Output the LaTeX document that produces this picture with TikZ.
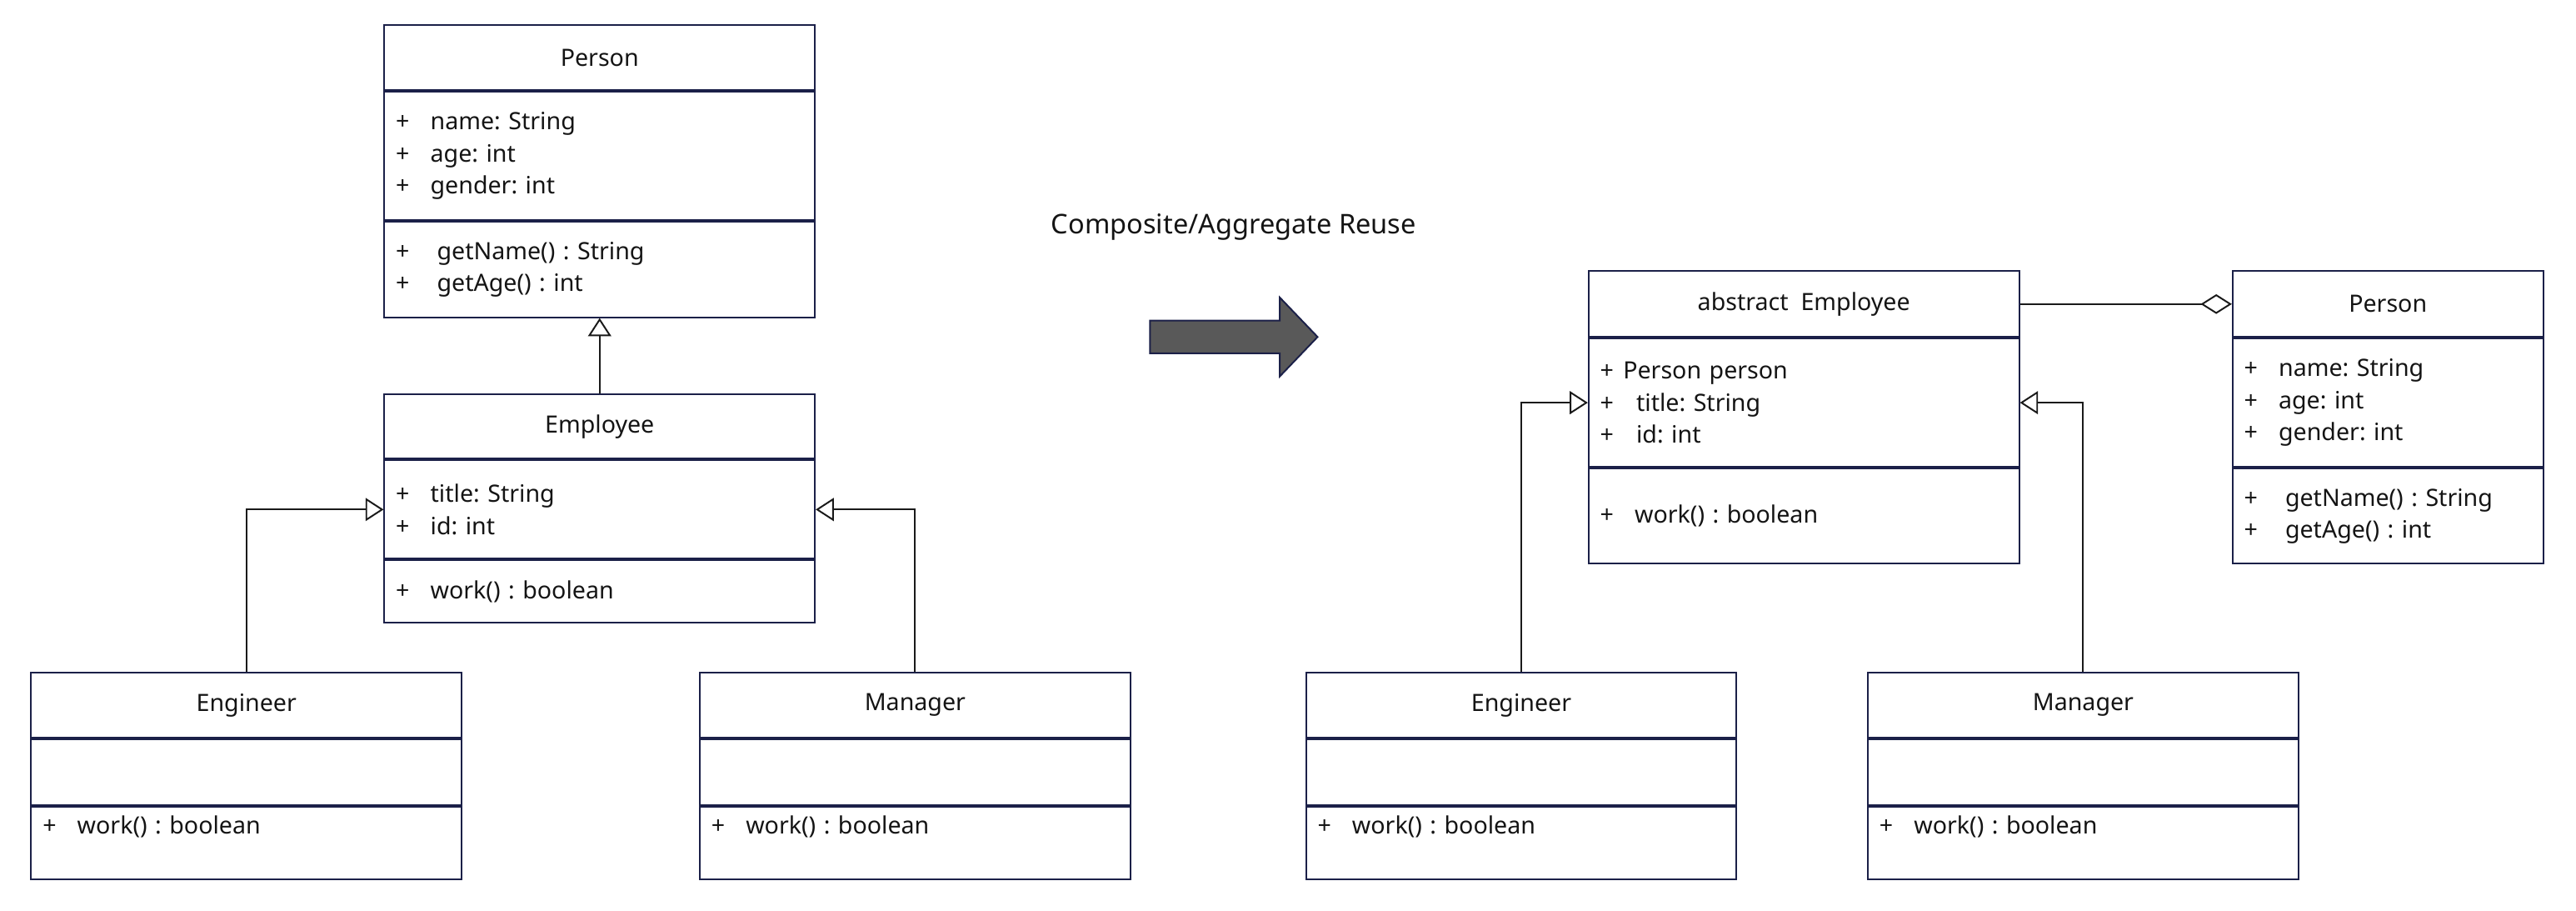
\documentclass[tikz,border=0pt]{standalone}
\usepackage{fontspec}
\setmainfont{Noto Sans}
\usepackage{tikz}
\usetikzlibrary{positioning}
\usetikzlibrary{arrows.meta}
\frenchspacing

\definecolor{umlborder}{HTML}{1B2048}
\definecolor{umlline}{HTML}{1A1A1A}
\definecolor{umltext}{HTML}{141414}
\definecolor{arrowfill}{HTML}{595959}

\newcommand{\pl}[1][21pt]{\makebox[#1][l]{+}}

\tikzset{
	cls/.style={draw=umlborder, line width=1pt, text=umltext, inner xsep=7pt, inner ysep=0pt,
		font=\fontsize{14.5}{19.5}\selectfont},
	head/.style={cls, minimum height=40pt, align=center},
	part/.style={cls, align=left, below=0pt of #1},
	gen/.style={draw=umlline, line width=1pt, -{Triangle[open,length=11pt,width=14pt]}},
	agg/.style={draw=umlline, line width=1pt, -{Diamond[open,length=19pt,width=12pt]}},
}

\begin{document}
\begin{tikzpicture}[x=1pt,y=-1pt]
	\useasboundingbox (0,0) rectangle (1568,554);
	% before: inheritance
	\node[head, minimum width=262pt] (person) at (365,35) {Person};
	\node[part=person, text width=248pt, minimum height=78pt] (personattr) {\pl name: String\\ \pl age: int\\ \pl gender: int};
	\node[part=personattr, text width=248pt, minimum height=58pt] (personmeth) {\pl[25pt]getName() : String\\ \pl[25pt]getAge() : int};

	\node[head, minimum width=262pt, minimum height=39pt] (emp) at (365,259.5) {Employee};
	\node[part=emp, text width=248pt, minimum height=60pt] (empattr) {\pl title: String\\ \pl id: int};
	\node[part=empattr, text width=248pt, minimum height=38pt] (empmeth) {\pl work() : boolean};

	\node[head, minimum width=262pt] (eng) at (150,429) {Engineer};
	\node[part=eng, text width=248pt, minimum height=40pt] (engattr) {};
	\node[part=engattr, text width=248pt, minimum height=44pt, text depth=22pt] (engmeth) {\pl work() : boolean};

	\node[head, minimum width=262pt] (mgr) at (557,429) {Manager};
	\node[part=mgr, text width=248pt, minimum height=40pt] (mgrattr) {};
	\node[part=mgrattr, text width=248pt, minimum height=44pt, text depth=22pt] (mgrmeth) {\pl work() : boolean};

	\draw[gen] (emp.north) -- (personmeth.south);
	\draw[gen] (eng.north) |- (empattr.west);
	\draw[gen] (mgr.north) |- (empattr.east);

	% middle
	\node[anchor=base, text=umltext, font=\fontsize{16.5}{20}\selectfont] (title) at (751,142) {Composite/Aggregate Reuse};
	\draw[umlborder, line width=1pt, fill=arrowfill] (700,195) -- (779,195) -- (779,181) -- (802,205)
		-- (779,229) -- (779,215) -- (700,215) -- cycle;

	% after: aggregation
	\node[head, minimum width=262pt] (aemp) at (1098,185) {abstract~~Employee};
	\node[part=aemp, text width=248pt, minimum height=78pt] (aempattr) {\pl[14pt]Person person\\ \pl[22pt]title: String\\ \pl[22pt]id: int};
	\node[part=aempattr, text width=248pt, minimum height=58pt] (aempmeth) {\pl work() : boolean};

	\node[head, minimum width=189pt] (rperson) at (1453.5,185) {Person};
	\node[part=rperson, text width=175pt, minimum height=78pt] (rpersonattr) {\pl name: String\\ \pl age: int\\ \pl gender: int};
	\node[part=rpersonattr, text width=175pt, minimum height=58pt] (rpersonmeth) {\pl[25pt]getName() : String\\ \pl[25pt]getAge() : int};

	\node[head, minimum width=262pt] (reng) at (926,429) {Engineer};
	\node[part=reng, text width=248pt, minimum height=40pt] (rengattr) {};
	\node[part=rengattr, text width=248pt, minimum height=44pt, text depth=22pt] (rengmeth) {\pl work() : boolean};

	\node[head, minimum width=262pt] (rmgr) at (1268,429) {Manager};
	\node[part=rmgr, text width=248pt, minimum height=40pt] (rmgrattr) {};
	\node[part=rmgrattr, text width=248pt, minimum height=44pt, text depth=22pt] (rmgrmeth) {\pl work() : boolean};

	\draw[agg] (aemp.east) -- (rperson.west);
	\draw[gen] (reng.north) |- (aempattr.west);
	\draw[gen] (rmgr.north) |- (aempattr.east);
\end{tikzpicture}
\end{document}
